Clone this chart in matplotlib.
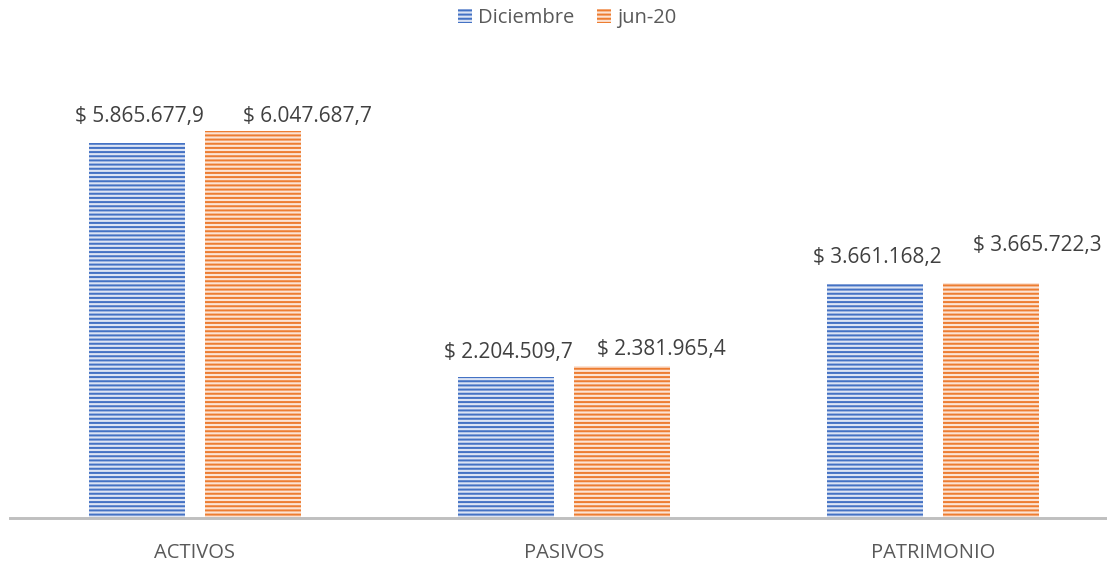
import matplotlib
matplotlib.use("Agg")
import matplotlib.pyplot as plt
import numpy as np

categories = ["ACTIVOS", "PASIVOS", "PATRIMONIO"]
series_names = ["Diciembre", "jun-20"]
diciembre = [5865677.9, 2204509.7, 3661168.2]
jun20 = [6047687.7, 2381965.4, 3665722.3]

# label offsets in pixels (dx, dy) relative to bar top centre
label_offsets = [
    [(3, 26), (2.5, 24), (2.5, 26)],
    [(55, 14), (39.5, 16), (46, 38)],
]

plt.rcParams['font.family'] = ['Open Sans', 'DejaVu Sans']
plt.rcParams['hatch.linewidth'] = 1.45

fig = plt.figure(figsize=(11.07, 5.62), dpi=100)
ax = fig.add_axes([10 / 1107, 44 / 562, 1097 / 1107, 448 / 562])

x = np.arange(len(categories))
width = 0.26
offset = 0.157
colors = ["#4472C4", "#ED7D31"]
lights = ["#DCE4F4", "#FCE3D3"]

def fmt(v):
    s = f"{v:,.1f}"
    s = s.replace(",", "X").replace(".", ",").replace("X", ".")
    return "$ " + s

for i, (vals, name) in enumerate(zip([diciembre, jun20], series_names)):
    pos = x + (-offset if i == 0 else offset)
    bars = ax.bar(pos, vals, width, facecolor=lights[i], edgecolor=colors[i],
                  linewidth=0, hatch='----', label=name)
    for j, b in enumerate(bars):
        dx, dy = label_offsets[i][j]
        ax.annotate(fmt(vals[j]), (b.get_x() + b.get_width() / 2, b.get_height()),
                    xytext=(dx, dy), textcoords='offset pixels',
                    ha='center', va='center', fontsize=15, color='#404040')

ax.set_xlim(-0.5, 2.471)
ax.set_ylim(0, 7000000)
for s in ['top', 'right', 'left']:
    ax.spines[s].set_visible(False)
ax.spines['bottom'].set_color('#BFBFBF')
ax.spines['bottom'].set_linewidth(2.1)
ax.set_yticks([])
ax.set_xticks(x)
ax.set_xticklabels(categories, fontsize=14.5, color='#595959')
ax.tick_params(axis='x', length=0, pad=18)

leg = fig.legend(loc='center', bbox_to_anchor=(567 / 1107, 1 - 18 / 562), ncol=2,
                 frameon=False, fontsize=14.5, labelcolor='#595959',
                 handlelength=0.7, handleheight=0.7, handletextpad=0.3,
                 columnspacing=1.1)

fig.savefig("out.png", dpi=100)
